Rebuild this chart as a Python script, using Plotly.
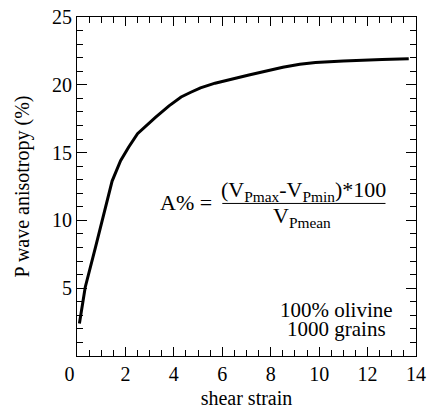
import plotly.graph_objects as go

# data
strain = [0.1, 0.34, 0.76, 1.1, 1.45, 1.8, 2.13, 2.5, 2.85, 3.24, 3.8, 4.3, 4.7, 5.1, 5.7, 6.13, 7.1, 8.5, 9.2, 9.85, 11.0, 12.6, 13.7]
aniso = [2.4, 5.07, 8.0, 10.5, 12.9, 14.4, 15.4, 16.4, 17.0, 17.6, 18.45, 19.1, 19.45, 19.78, 20.12, 20.32, 20.72, 21.3, 21.52, 21.64, 21.76, 21.87, 21.93]

x_ticks = [0, 2, 4, 6, 8, 10, 12, 14]
x_ticktext = ["0\u2002\u2005", "2", "4", "6", "8", "10", "12", "14"]
y_ticks = [5, 10, 15, 20, 25]
y_ticktext = ["5", "10", "15", "20", "25"]

FONT = "Liberation Serif, Times New Roman, Times, serif"

fig = go.Figure()
fig.add_trace(go.Scatter(x=strain, y=aniso, mode="lines",
                         line=dict(color="black", width=3), showlegend=False))

tickfont = dict(family=FONT, size=20, color="black")
axis_common = dict(
    showline=True, linecolor="black", linewidth=1, mirror="allticks",
    ticks="inside", tickcolor="black", tickwidth=1,
    showgrid=False, zeroline=False, tickmode="array",
    tickfont=tickfont,
)

fig.update_layout(width=430, height=409,
                  template="none",
                  margin=dict(l=77, r=14, t=17, b=53),
                  paper_bgcolor="white", plot_bgcolor="white",
                  font=dict(family=FONT, size=20, color="black"))

fig.update_xaxes(range=[0, 14], tickvals=x_ticks, ticktext=x_ticktext, ticklen=9,
                 minor=dict(tickmode="linear", tick0=0, dtick=0.5, ticklen=6,
                            ticks="inside", tickcolor="black", tickwidth=1, showgrid=False),
                 title=dict(text="shear strain", font=tickfont, standoff=7),
                 **axis_common)
fig.update_yaxes(range=[0, 25], tickvals=y_ticks, ticktext=y_ticktext, ticklen=10,
                 minor=dict(tickmode="linear", tick0=0, dtick=1, ticklen=6,
                            ticks="inside", tickcolor="black", tickwidth=1, showgrid=False),
                 title=dict(text="P wave anisotropy (%)", font=tickfont, standoff=17),
                 **axis_common)

ann_font = dict(family=FONT, size=22, color="black")
note_font = dict(family=FONT, size=21, color="black")
fig.add_annotation(x=4.5, y=11.3, xref="x", yref="y", showarrow=False,
                   text="A% =", font=ann_font)
fig.add_annotation(x=9.35, y=12.15, xref="x", yref="y", showarrow=False,
                   text="(V<sub>Pmax</sub>-V<sub>Pmin</sub>)*100", font=ann_font)
fig.add_annotation(x=9.31, y=10.25, xref="x", yref="y", showarrow=False,
                   text="V<sub>Pmean</sub>", font=ann_font)
fig.add_shape(type="line", xref="x", yref="y", x0=6.0, x1=12.74, y0=11.25, y1=11.25,
              line=dict(color="black", width=1))
fig.add_annotation(x=10.7, y=3.4, xref="x", yref="y", showarrow=False,
                   text="100% olivine", font=note_font)
fig.add_annotation(x=10.7, y=1.98, xref="x", yref="y", showarrow=False,
                   text="1000 grains", font=note_font)

fig.write_html("out.html")
